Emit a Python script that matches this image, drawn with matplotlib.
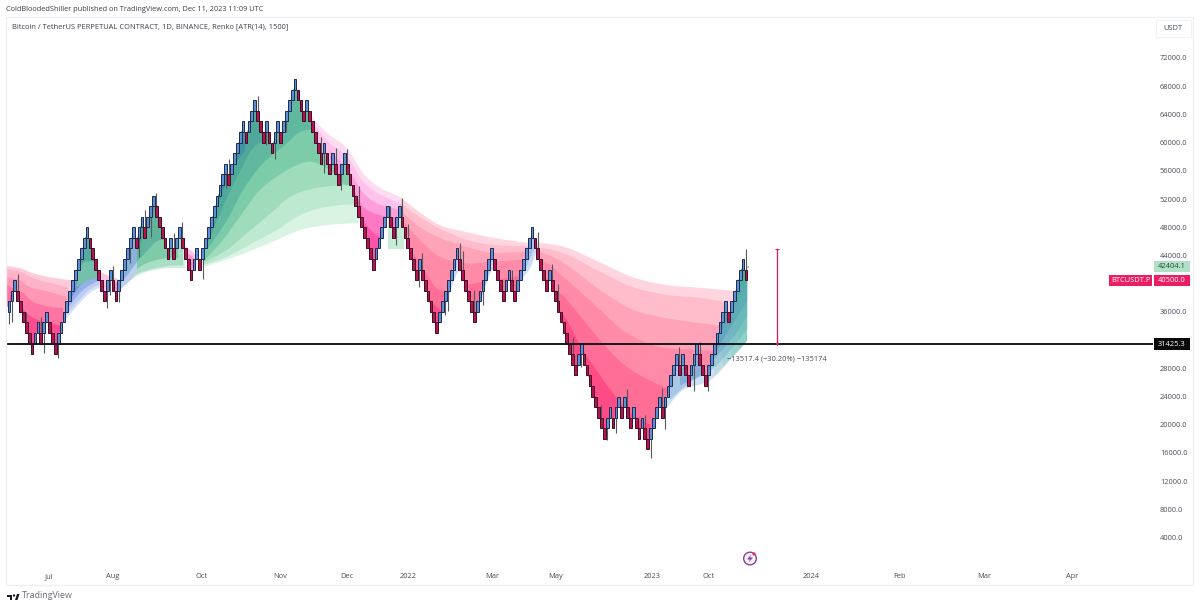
import numpy as np
import matplotlib
matplotlib.use('Agg')
import matplotlib.pyplot as plt
from matplotlib.patches import Circle, PathPatch, Polygon, Rectangle
from matplotlib.path import Path
from matplotlib.transforms import IdentityTransform

plt.rcParams['font.family'] = ['Open Sans', 'DejaVu Sans']

BRICK = 1500.0

# renko closes, in bricks of 1500
closes = [25, 26, 27, 25, 24, 23, 22, 21, 20, 22, 23, 21, 23, 24, 22, 21, 20, 22, 23, 24,
          25, 26, 27, 28, 29, 30, 31, 32, 30, 29, 28, 27, 26, 25, 27, 28, 26, 25, 27, 28,
          29, 30, 31, 32, 30, 32, 33, 31, 33, 34, 35, 33, 32, 31, 30, 29, 31, 29, 31, 32,
          30, 29, 28, 27, 29, 30, 28, 30, 31, 32, 33, 34, 35, 36, 37, 38, 36, 38, 39, 40,
          41, 42, 40, 42, 43, 44, 42, 41, 40, 42, 40, 39, 41, 42, 40, 42, 43, 44, 45, 46,
          44, 43, 42, 44, 42, 41, 40, 39, 38, 40, 38, 37, 39, 37, 36, 38, 39, 37, 36, 35,
          34, 33, 32, 31, 30, 29, 28, 30, 31, 32, 33, 34, 32, 31, 33, 34, 32, 31, 30, 29,
          28, 27, 29, 27, 26, 25, 24, 23, 22, 24, 25, 26, 27, 28, 29, 30, 28, 27, 26, 25,
          24, 23, 25, 26, 27, 28, 29, 30, 28, 27, 26, 25, 27, 28, 26, 25, 27, 28, 29, 30,
          31, 32, 30, 29, 28, 27, 26, 28, 26, 25, 24, 23, 22, 21, 20, 19, 18, 20, 21, 19,
          18, 17, 16, 15, 14, 13, 12, 14, 15, 13, 15, 16, 14, 16, 14, 13, 15, 13, 12, 14,
          12, 11, 13, 14, 15, 16, 14, 16, 17, 18, 19, 20, 18, 20, 18, 17, 19, 20, 21, 19,
          18, 17, 19, 20, 21, 22, 23, 24, 25, 23, 25, 26, 27, 28, 29, 27]

wick_bars = [0, 1, 3, 6, 11, 12, 17, 34, 35, 36, 38, 42, 45, 47, 49, 51, 57, 60, 67, 75, 76,
             86, 89, 92, 93, 96, 108, 109, 113, 115, 117, 121, 132, 134, 136, 138, 142, 143,
             144, 151, 152, 156, 157, 161, 164, 173, 174, 183, 188, 190, 195, 198, 205, 207,
             210, 214, 220, 222, 226, 227, 232, 237, 239, 242, 255]
wick_ends = [34350, 34600, 41300, 36000, 35300, 30100, 29500, 36500, 38400, 42500, 37400,
             42900, 43800, 50400, 46650, 52800, 47200, 48700, 40640, 53500, 57670, 66650,
             59650, 57620, 63060, 61550, 60840, 55640, 59180, 53270, 59090, 53840, 51050,
             45460, 52100, 48410, 39560, 44300, 39090, 35540, 36160, 45710, 44630, 39090,
             36960, 41930, 41930, 47370, 42780, 39940, 32470, 28120, 22770, 17800, 18850,
             25000, 21350, 15300, 25140, 19410, 30960, 24760, 31660, 24800, 44900]

# ribbon curves, outermost first (bar index / price)
left_pink_x = [[-1, 3.8, 8.3, 14.2, 21.8], [-1, 3.8, 8.3, 14.2, 20.4], [-1, 3.8, 7.3, 14.2, 20.1],
               [-1, 0.3, 4.8, 8.3, 14.2, 18.7], [0.3, 2.8, 6.2, 9.7, 14.2, 17.6]]
left_pink_y = [[42500, 42200, 41500, 40900, 40500], [42100, 41700, 40800, 40100, 39500],
               [40900, 40500, 39500, 38800, 38100], [40100, 39500, 38700, 37400, 36700, 36550],
               [38400, 37700, 35800, 34900, 34400, 34100]]

left_blue_x = [[18.7, 21.8, 24.6, 28, 31.5], [18.7, 21.8, 24.6, 28, 31.5],
               [18.7, 21.8, 24.6, 28, 31.5], [18.7, 21.8, 24.6, 27.3]]
left_blue_y = [[34300, 36000, 37300, 38700, 39500], [34900, 36550, 37800, 39200, 39900],
               [35600, 37300, 38700, 39800, 40500], [36300, 38100, 39700, 40500]]

peak_teal_x = [[23.5, 26.3, 29.8, 32.2], [23.9, 26.3, 29.8]]
peak_teal_y = [[39500, 40200, 40800, 41400], [42200, 43100, 43100]]

small_pink_x = [[31.5, 33.9, 36.7, 38.4], [33.5, 38], [58.5, 62.6, 66.1, 67.8], [60.9, 64.4, 67.1]]
small_pink_y = [[41700, 41200, 40800, 40500], [40500, 40100], [45800, 44800, 43400, 42500],
                [44500, 43400, 42200]]

aug_green_x = [[38.4, 42.9, 47.8, 54.7, 60.9], [40.1, 43.6, 47.8, 54.7, 60.2],
               [40.8, 45.3, 48.8, 54, 58.5], [42.9, 47, 50.5, 54, 56.4], [43.6, 47, 50.5]]
aug_green_y = [[39100, 40800, 41700, 42200, 42200], [40100, 41200, 41900, 42500, 42600],
               [40900, 42400, 43100, 43600, 43600], [42600, 44300, 45800, 46200, 44800],
               [44800, 46900, 50400]]

aug_blue_x = [[37.7, 40.1, 42.9, 44.3], [37.7, 40.1, 42.2, 44.3]]
aug_blue_y = [[38800, 39800, 40800, 41700], [39800, 40800, 41900, 43100]]

big_green_x = [[67.1, 75.4, 84.4, 92.7, 100.7, 110, 121.1],
               [67.1, 75.4, 84.4, 92.7, 99.7, 107.6, 119, 121],
               [67.1, 75.4, 82.4, 89.3, 97.2, 106.6, 118],
               [67.8, 74, 79.9, 86.9, 96.2, 104.2, 111, 116.3, 118],
               [68.5, 75.4, 81, 87.9, 96.2, 100.7, 107.6],
               [68.9, 74, 78.9, 84.4, 89.3, 95.5],
               [69.6, 73.7, 77.5, 81.7]]
big_green_y = [[42400, 43400, 44800, 46200, 47600, 48300, 48600],
               [42600, 43800, 45800, 47600, 49500, 50700, 51200, 50000],
               [42900, 44800, 47200, 49500, 52300, 53600, 54000],
               [43400, 46200, 49500, 53300, 56100, 57300, 56100, 54000, 54500],
               [44800, 49000, 53300, 57100, 59900, 61500, 62100],
               [45800, 50900, 55100, 59200, 60400, 61800],
               [48000, 52900, 56500, 58900]]

patch_green_x = [131.1, 136.7]
patch_green_y = [44900, 44900]

magenta_x = [[104.2, 110, 117, 122.5, 128.4, 135.3], [105.2, 110.4, 117, 122.1, 127.3, 135.3],
             [111, 118, 122.5, 127.3, 135.3], [119, 122.5, 128.4, 135.3],
             [120.8, 123.2, 128.4, 133.6, 135.3]]
magenta_y = [[63900, 61400, 59200, 55700, 53600, 52300], [62800, 60100, 58000, 54700, 52900, 51400],
             [58900, 55700, 52900, 51400, 50400], [53700, 50900, 49700, 49300],
             [51900, 48600, 46600, 46200, 46200]]

pink_x = [[135.3, 141.2, 149.1, 158.5, 167.5, 179.2, 183.7, 193.1, 204.5, 215.9, 227.7, 239.1, 250.5],
          [135.3, 141.2, 149.1, 158.5, 167.5, 183.7, 193.1, 204.5, 215.9, 227.7, 239.1, 247.8],
          [135.3, 142.2, 149.1, 158.5, 167.5, 183.7, 193.1, 204.5, 215.9, 227.7, 239.1, 246],
          [135.3, 142.2, 149.1, 158.5, 167.5, 183.7, 193.1, 204.5, 213.8, 225.3, 239.1, 246],
          [135.3, 138.8, 144, 149.1, 158.5, 167.5, 183.7, 189, 193.1, 204.5, 213.8, 225.3, 235.6, 242.5],
          [138.8, 142.2, 149.1, 159.5, 183.7, 190.7, 197.6, 204.5, 213.8, 221.8]]
pink_y = [[52300, 50400, 48300, 47300, 46500, 45800, 45800, 45100, 43000, 40900, 39800, 39400, 39000],
          [51400, 49700, 47800, 46200, 45500, 45100, 44100, 41700, 39500, 38400, 38000, 37400],
          [50400, 48000, 46500, 45200, 44400, 44400, 42600, 39100, 36300, 35100, 34400, 34100],
          [49300, 46200, 43800, 42900, 43100, 43300, 40500, 36300, 33000, 31000, 30600, 30300],
          [46200, 44800, 41700, 39100, 39800, 40500, 41200, 39100, 37700, 32000, 28200, 25600, 24200, 23500],
          [41900, 39800, 36300, 34900, 34900, 36000, 31300, 27000, 22100, 20000]]

strip_blue_x = [[150.2, 152.6, 155.4, 157.8], [150.9, 152.6, 155], [163, 164.7, 167.1, 168.9],
                [163.7, 165.4, 167.1], [176.8, 180.3, 183, 186.2], [178.5, 181.3, 183.7]]
strip_blue_y = [[36000, 38800, 41700, 41700], [37000, 39800, 42700], [37300, 39500, 41900, 41500],
                [38400, 40500, 43100], [40400, 42200, 45000, 46900], [41900, 44500, 46200]]

end_blue_x = [[227.7, 233.2, 242.6, 250.5, 255.7], [228.7, 235.6, 243.3, 250.5, 255.7],
              [232.2, 239.1, 245.3, 251.2, 255.7], [240.8, 246, 251.2, 255.7],
              [246.7, 251.2, 255.7], [251.2, 255.7]]
end_blue_y = [[22400, 24900, 26300, 29600, 32000], [23500, 26000, 27800, 31000, 33700],
              [25600, 27000, 29900, 32700, 35600], [27500, 31300, 34800, 37700],
              [33400, 37000, 39800], [39100, 40500]]

# teal tint over the right end of the last blue ribbon
end_tint_x = [[244, 250.5, 255.7], [247, 250.5, 255.7], [250, 255.7], [252.5, 255.7]]
end_tint_y = [[27000, 29700, 32100], [28300, 29700, 32100], [29500, 32100], [30500, 32100]]

price_ticks = list(range(4000, 76000, 4000))
time_tick_bars = [13.8, 36, 66.8, 94, 117, 138, 167.1, 189.3, 222.5, 242, 277.5, 308.3, 337.4, 368]
time_tick_labels = ['Jul', 'Aug', 'Oct', 'Nov', 'Dec', '2022', 'Mar', 'May', '2023', 'Oct',
                    '2024', 'Feb', 'Mar', 'Apr']

hline_price = 31425.3
measure_bar = 265.7
measure_top = 44942.7
last_high = 42404.1
last_close = 40500.0

GREY = '#4a4d57'

fig = plt.figure(figsize=(12, 6.08), dpi=100, facecolor='white')
ax = fig.add_axes([6 / 1200, 1 - 562 / 608, (1153 - 6) / 1200, (562 - 17) / 608])
ax.set_xlim(-1.04, 395.85)
ax.set_ylim(533, 77813)
for s in ax.spines.values():
    s.set_visible(False)

closes = np.array(closes) * BRICK
bars = np.arange(len(closes))
prev = np.concatenate([[closes[0] - BRICK], closes[:-1]])
up = closes > prev
opens = np.where(up, closes - BRICK, closes + BRICK)
mids = (opens + closes) / 2

# regions above / below the brick path, ribbons get clipped by these
edge_x = np.concatenate([[-1.04], bars, [255.4]])
edge_y = np.concatenate([[mids[0]], mids, [mids[-1]]])
above = Polygon(np.column_stack([np.r_[edge_x, 255.4, -1.04], np.r_[edge_y, 90000, 90000]]),
                transform=ax.transData, fc='none', ec='none')
below = Polygon(np.column_stack([np.r_[edge_x, 255.4, -1.04], np.r_[edge_y, -9000, -9000]]),
                transform=ax.transData, fc='none', ec='none')
ax.add_patch(above)
ax.add_patch(below)


def curve_path(x, y, far):
    # bezier through the read points, closed off to the far side
    p = np.column_stack([x, y]).astype(float)
    verts = [p[0]]
    codes = [Path.MOVETO]
    for i in range(len(p) - 1):
        a = p[max(i - 1, 0)]
        b = p[min(i + 2, len(p) - 1)]
        verts += [p[i] + (p[i + 1] - a) / 6, p[i + 1] - (b - p[i]) / 6, p[i + 1]]
        codes += [Path.CURVE4] * 3
    verts += [(x[-1], far), (x[0], far), p[0]]
    codes += [Path.LINETO, Path.LINETO, Path.CLOSEPOLY]
    return Path(verts, codes)


def ribbon(xs, ys, colors, over_price, alpha=None):
    # over_price: fill from the curve down, only above the bricks. else the other way
    for x, y, c in zip(xs, ys, colors):
        far = -9000 if over_price else 90000
        art = PathPatch(curve_path(x, y, far), fc=c, ec='none', lw=0, alpha=alpha, zorder=1)
        ax.add_patch(art)
        art.set_clip_path(above if over_price else below)


PINKS = ['#ffd5df', '#ffbccb', '#ffa3b8', '#ff8ba8', '#ff6e97', '#ff4b86']

ribbon(left_pink_x, left_pink_y, ['#ffcbd9', '#ffb3c8', '#ff97b5', '#ff74a2', '#ff4b8f'], True)
ribbon(magenta_x, magenta_y, ['#ffdcf2', '#ffc2ea', '#ff9edd', '#ff78c4', '#ff55a8'], True)
ribbon(pink_x, pink_y, PINKS, True)
ribbon(small_pink_x[:2], small_pink_y[:2], ['#ffc4dc', '#ff94c2'], True)
ribbon(small_pink_x[2:], small_pink_y[2:], ['#ffc0e8', '#ff8fd0'], True)

ribbon(left_blue_x, left_blue_y, ['#d6e0f8', '#bccdf3', '#98b0ea', '#7793e0'], False)
ribbon(peak_teal_x, peak_teal_y, ['#74c0aa', '#55aa9f'], False)
ribbon(aug_green_x, aug_green_y, ['#cfeede', '#a8dec3', '#7fcaa9', '#5fb49b', '#4da49a'], False)
ribbon(aug_blue_x, aug_blue_y, ['#bcd0ee', '#8ab0dc'], False)
ribbon(big_green_x, big_green_y,
       ['#d9f4e3', '#bde9d0', '#9edcbc', '#7ccba9', '#60b89e', '#4ea99b', '#4195a0'], False)
ribbon([patch_green_x], [patch_green_y], ['#c8ecd6'], False)
ribbon(strip_blue_x, strip_blue_y, ['#cddcf5', '#a9c4ee'] * 3, False)
ribbon(end_blue_x, end_blue_y, ['#cfe0f3', '#a9c8e6', '#86b0d8', '#6a9ccc', '#5a9ab8', '#3fa88f'], False)
ribbon(end_tint_x, end_tint_y, ['#4fc49c'] * 4, False, alpha=0.16)

# wicks then bricks
ax.vlines(wick_bars, mids[wick_bars], wick_ends, color='#555a5c', lw=0.8, zorder=2)
ax.bar(bars[up], BRICK, bottom=opens[up], width=0.95, color='#5f8fd4',
       edgecolor='#1d2b4f', linewidth=0.7, zorder=3)
ax.bar(bars[~up], BRICK, bottom=closes[~up], width=0.95, color='#b5134f',
       edgecolor='#3f0d26', linewidth=0.7, zorder=3)
ax.plot([255.8], [last_high], marker='s', ms=1.5, color='#9fdcc0', mew=0, zorder=2)

ax.axhline(hline_price, color='#15181c', lw=1.4, zorder=4)

# measure tool
ax.plot([measure_bar, measure_bar], [measure_top, hline_price], color='#d81b60', lw=0.9, zorder=4)
ax.plot([measure_bar], [measure_top], marker='_', ms=3, color='#d81b60', mew=0.8, zorder=4)
ax.plot([measure_bar], [hline_price], marker='v', ms=2.5, color='#d81b60', mew=0, zorder=4)
ax.text(measure_bar, 29300, '\u221213517.4 (\u221230.20%) \u2212135174', ha='center', va='center',
        fontsize=5.4, color=GREY, zorder=4)

# axes
ax.yaxis.tick_right()
ax.set_yticks(price_ticks)
ax.set_yticklabels(['%.1f' % p for p in price_ticks])
ax.tick_params(axis='y', length=0, pad=5, labelsize=5.4, labelcolor=GREY)
ax.set_xticks(time_tick_bars)
ax.set_xticklabels(time_tick_labels)
ax.tick_params(axis='x', length=0, pad=8, labelsize=5.4, labelcolor=GREY)


def last_label(text, price, fc, tc, x0=1154, x1=1190, h=11, weight='normal'):
    y = 1 - (80224 - price) / 141.8 / 608
    fig.patches.append(Rectangle((x0 / 1200, y - h / 2 / 608), (x1 - x0) / 1200, h / 608,
                                 transform=fig.transFigure, fc=fc, ec='none', zorder=5))
    fig.text((x0 + x1) / 2 / 1200, y, text, color=tc, fontsize=5.4, ha='center', va='center',
             zorder=6, weight=weight)


last_label('42404.1', last_high, '#b2e0c6', '#1f4b3c')
last_label('40500.0', last_close, '#e91e63', 'white')
last_label('BTCUSDT.P', last_close, '#e91e63', 'white', x0=1109, x1=1152)
last_label('31425.3', hline_price, '#0a0a0a', 'white', h=12)

# frame and header
fig.patches.append(Rectangle((6 / 1200, 1 - 585 / 608), 1187 / 1200, 568 / 608, transform=fig.transFigure,
                             fc='none', ec='#eef0f3', lw=1.0, zorder=0))
fig.patches.append(Rectangle((1156 / 1200, 1 - 37 / 608), 35 / 1200, 17 / 608, transform=fig.transFigure,
                             fc='white', ec='#f0f1f4', lw=0.8, zorder=5))
fig.text(1173 / 1200, 1 - 29 / 608, 'USDT', fontsize=5.4, color=GREY, ha='center', va='center', zorder=6)
fig.text(6 / 1200, 1 - 9.5 / 608, 'ColdBloodedShiller published on TradingView.com, Dec 11, 2023 11:09 UTC',
         fontsize=5.35, color='#3c3f48', va='center')
fig.text(12 / 1200, 1 - 27 / 608, 'Bitcoin / TetherUS PERPETUAL CONTRACT, 1D, BINANCE, Renko [ATR(14), 1500]',
         fontsize=5.45, color='#3c3f48', va='center')
fig.text(22 / 1200, 1 - 596 / 608, 'TradingView', fontsize=6.4, color='#6a6d78', va='center')

# logos, these are in pixels
tr = IdentityTransform()
py = lambda v: 608 - v
fig.patches.append(Rectangle((7, py(597)), 5, 2.4, transform=tr, fc='#131722', ec='none'))
fig.patches.append(Rectangle((9.5, py(600)), 2.5, 5, transform=tr, fc='#131722', ec='none'))
fig.patches.append(Circle((14, py(595.5)), 1.2, transform=tr, fc='#131722', ec='none'))
fig.patches.append(Polygon([(15, py(600)), (17, py(594)), (19.5, py(594)), (17.5, py(600))],
                           transform=tr, fc='#131722', ec='none'))
fig.patches.append(Circle((750, py(558.5)), 6.3, transform=tr, fc='white', ec='#8e36a8', lw=1.0))
fig.patches.append(Polygon([(751.5, py(554)), (747, py(559.5)), (750, py(559.5)), (748.5, py(563)),
                            (753, py(557.5)), (750, py(557.5))], transform=tr, fc='#8e36a8', ec='none'))
fig.patches.append(Circle((754, py(554)), 1.6, transform=tr, fc='#e5343b', ec='none'))

fig.savefig('out.png', dpi=100)
